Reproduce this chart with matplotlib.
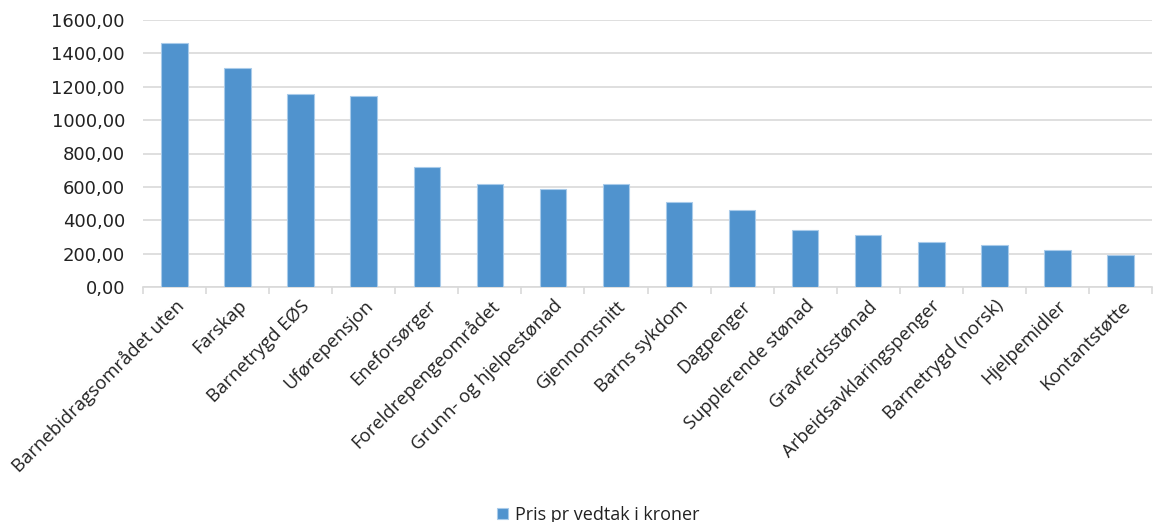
import matplotlib.pyplot as plt

categories = [
    "Barnebidragsområdet uten", "Farskap", "Barnetrygd EØS", "Uførepensjon",
    "Eneforsørger", "Foreldrepengeområdet", "Grunn- og hjelpestønad",
    "Gjennomsnitt", "Barns sykdom", "Dagpenger", "Supplerende stønad",
    "Gravferdsstønad", "Arbeidsavklaringspenger", "Barnetrygd (norsk)",
    "Hjelpemidler", "Kontantstøtte",
]
values = [1460, 1310, 1158, 1145, 721, 615, 585, 615, 509, 463,
          344, 314, 268, 252, 222, 192]
yticks = [0, 200, 400, 600, 800, 1000, 1200, 1400, 1600]
series_name = "Pris pr vedtak i kroner"

fig = plt.figure(figsize=(11.57, 5.22), dpi=100)
ax = fig.add_axes([143 / 1157, 1 - 287 / 522, (1152 - 143) / 1157, (287 - 20) / 522])

x = range(len(categories))
ax.bar(x, values, width=0.42, color="#5093CE", edgecolor="#A9CBEA",
       linewidth=0.8, label=series_name, zorder=3)

ax.set_ylim(0, 1600)
ax.set_xlim(-0.5, len(categories) - 0.5)
ax.set_yticks(yticks)
ax.set_yticklabels([f"{v},00" for v in yticks], fontsize=13, color="#222222",
                   family="DejaVu Sans")
ax.yaxis.grid(True, color="#D9D9D9", linewidth=1.2, zorder=0)
ax.tick_params(axis="y", length=0, pad=13)

ax.set_xticks([i - 0.5 for i in range(len(categories) + 1)], minor=True)
ax.set_xticks(list(x))
ax.set_xticklabels(categories, rotation=45, ha="right", rotation_mode="anchor",
                   fontsize=13.3, color="#222222", family="Open Sans")
ax.tick_params(axis="x", which="major", length=0, pad=7)
ax.tick_params(axis="x", which="minor", length=5, color="#D9D9D9", width=1.2)

for side in ["top", "right", "left"]:
    ax.spines[side].set_visible(False)
ax.spines["bottom"].set_color("#D9D9D9")
ax.spines["bottom"].set_linewidth(1.2)

fig.legend(loc="lower center", bbox_to_anchor=(0.517, -0.035), frameon=False,
           prop={"family": "Open Sans", "size": 13}, handlelength=0.6,
           handleheight=0.6, handletextpad=0.4, labelcolor="#222222")

fig.savefig("out.png", dpi=100)
